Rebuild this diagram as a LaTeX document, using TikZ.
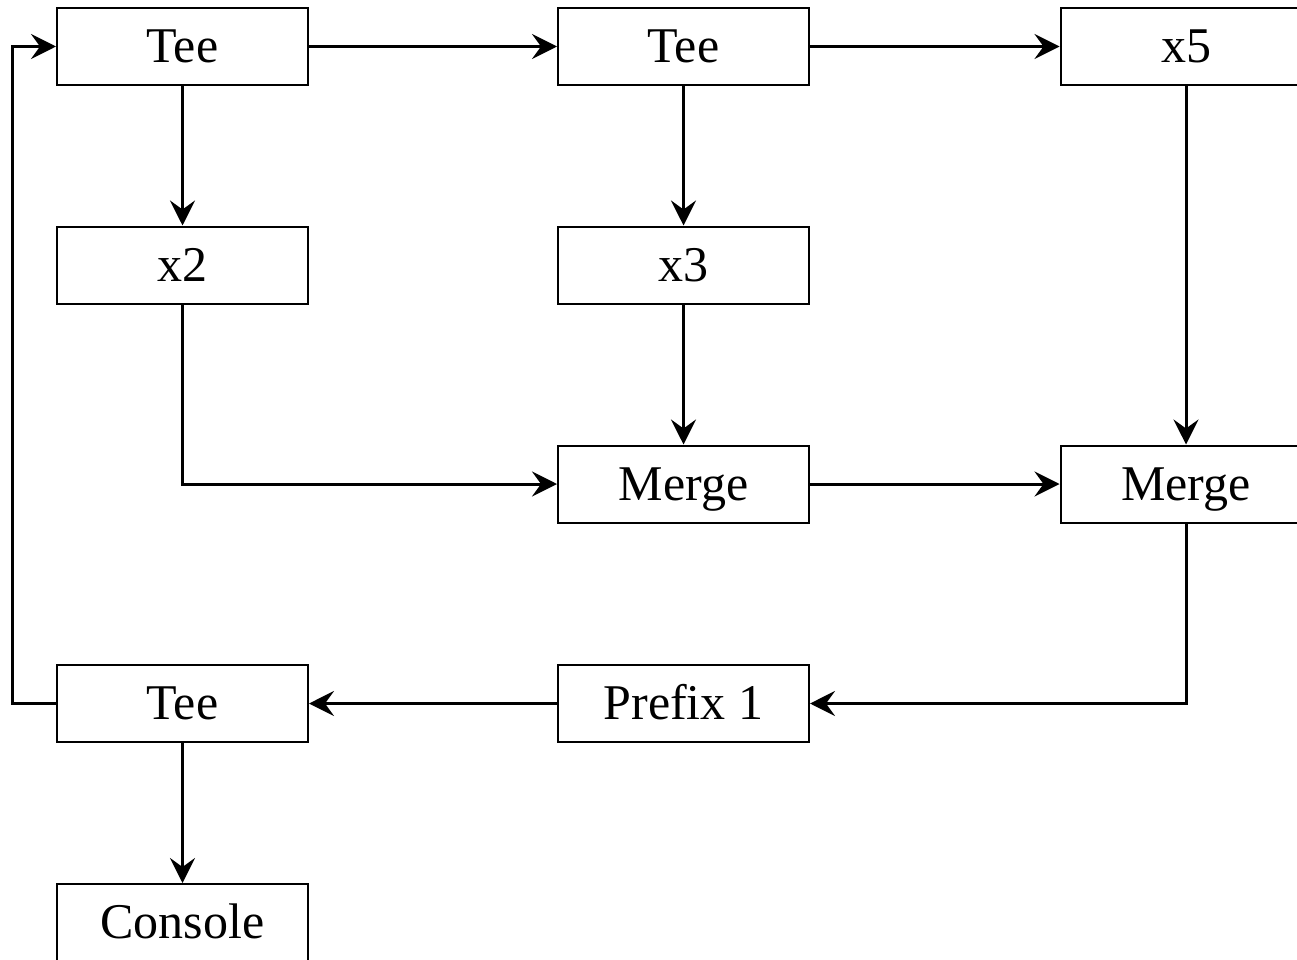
\documentclass[tikz,border=0pt]{standalone}
\usepackage{fontspec}
\setmainfont{Liberation Serif}
\usetikzlibrary{arrows.meta}
\begin{document}
\begin{tikzpicture}[x=1pt,y=-1pt,
  blk/.style={draw, line width=2pt, minimum width=251pt, minimum height=77pt, inner sep=0pt,
    font=\fontsize{50}{54}\selectfont, text height=32pt, text depth=0pt},
  conn/.style={line width=3pt},
  arr/.style={conn, -{Stealth[length=25pt,width=25pt,inset=9pt]}}]
\useasboundingbox (0,0) rectangle (1297,960);
\node[blk] (tee1) at (182.5,46.5) {Tee};
\node[blk] (tee2) at (683.5,46.5) {Tee};
\node[blk] (x5) at (1186,46.5) {x5};
\node[blk] (x2) at (182.5,265) {x2};
\node[blk] (x3) at (683.5,265) {x3};
\node[blk] (merge1) at (683.5,484) {Merge};
\node[blk] (merge2) at (1186,484) {Merge};
\node[blk] (tee3) at (182.5,703.5) {Tee};
\node[blk] (prefix) at (683.5,703.5) {Prefix 1};
\node[blk] (console) at (182.5,922.5) {Console};
\coordinate (loopL) at (12,703.5);
\draw[arr] (tee1.east) -- (tee2.west);
\draw[arr] (tee2.east) -- (x5.west);
\draw[arr] (tee1.south) -- (x2.north);
\draw[arr] (tee2.south) -- (x3.north);
\draw[arr] (x3.south) -- (merge1.north);
\draw[arr] (x5.south) -- (merge2.north);
\draw[arr] (x2.south) |- (merge1.west);
\draw[arr] (merge1.east) -- (merge2.west);
\draw[arr] (merge2.south) |- (prefix.east);
\draw[arr] (prefix.west) -- (tee3.east);
\draw[arr] (tee3.west) -- (loopL) |- (tee1.west);
\draw[arr] (tee3.south) -- (console.north);
\end{tikzpicture}
\end{document}
